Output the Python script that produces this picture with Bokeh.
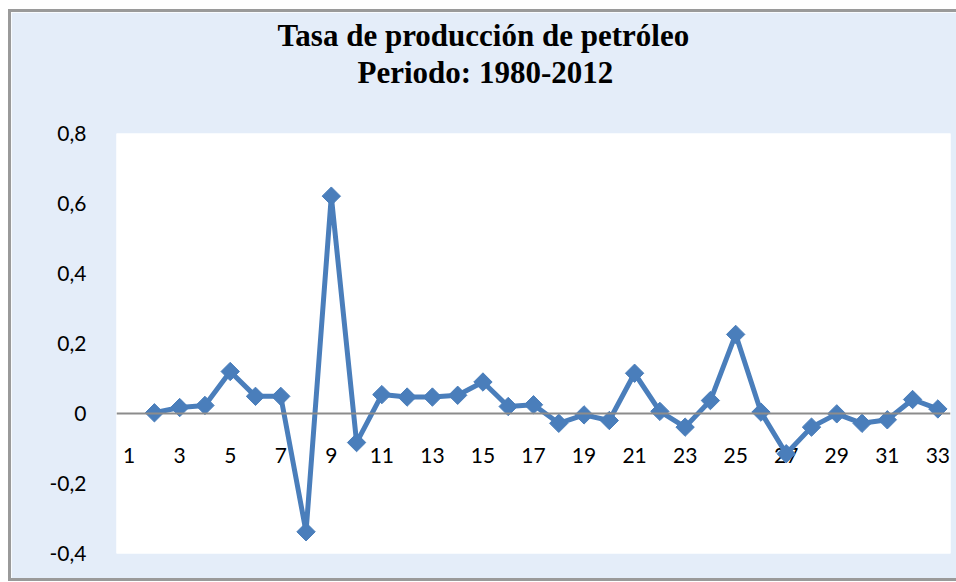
import math
from bokeh.plotting import figure
from bokeh.models import FixedTicker, CustomJSTickFormatter, Span, Range1d, Title
from bokeh.core.properties import value
from bokeh.embed import file_html
from bokeh.resources import INLINE

nan = float("nan")

# Data (periods 1..33, period 1 has no rate)
periods = list(range(1, 34))
rate = [nan, 0.002, 0.017, 0.023, 0.12, 0.049, 0.049, -0.338, 0.621, -0.083,
        0.054, 0.047, 0.047, 0.052, 0.09, 0.02, 0.025, -0.028, -0.004, -0.02,
        0.115, 0.006, -0.039, 0.037, 0.226, 0.004, -0.115, -0.039, -0.001,
        -0.028, -0.018, 0.04, 0.013]

x_tick_pos = list(range(1, 34, 2))
x_tick_labels = [str(v) for v in x_tick_pos]
y_ticks = [-0.4, -0.2, 0.0, 0.2, 0.4, 0.6, 0.8]

title_line1 = "Tasa de producción de petróleo"
title_line2 = "Periodo: 1980-2012"

BLUE = "#4A7EBB"
BG = "#E4EDF9"

p = figure(width=945, height=566, output_backend="svg", toolbar_location=None,
           x_range=Range1d(0.5, 33.5), y_range=Range1d(-0.4, 0.8),
           min_border_left=105, min_border_right=6, min_border_top=121,
           min_border_bottom=25)

title_style = dict(align="left", text_font="Liberation Serif", text_font_style="bold",
                   text_font_size="31px", text_color="black")
p.title = Title(text=title_line1, offset=161, standoff=0, **title_style)
# empty spacer between the title block and the plot area (added first = closest to plot)
p.add_layout(Title(text=" ", text_font_size="1px", standoff=41), "above")
p.add_layout(Title(text=title_line2, offset=241, standoff=0, **title_style), "above")

p.border_fill_color = BG
p.background_fill_color = "white"
p.outline_line_color = None
p.xgrid.visible = False
p.ygrid.visible = False
p.xaxis.visible = False

p.yaxis.ticker = FixedTicker(ticks=y_ticks)
p.yaxis.formatter = CustomJSTickFormatter(code="""
    if (Math.abs(tick) < 1e-9) { return "0"; }
    return tick.toFixed(1).replace(".", ",");
""")
p.yaxis.axis_line_color = None
p.yaxis.major_tick_line_color = None
p.yaxis.minor_tick_line_color = None
p.yaxis.major_label_standoff = 24
p.yaxis.major_label_text_font = "Lato"
p.yaxis.major_label_text_font_size = "21px"
p.yaxis.major_label_text_color = "black"

p.add_layout(Span(location=0, dimension="width", line_color="#8C8C8C", line_width=2))

# category labels next to the horizontal axis (which crosses at 0)
p.text(x=x_tick_pos, y=[0] * len(x_tick_pos), text=x_tick_labels,
       text_align="center", text_baseline="middle", y_offset=42,
       text_font=value("Lato"), text_font_size="21px", text_color="black")

p.line(periods, rate, line_color=BLUE, line_width=5, line_join="round")
p.scatter(periods, rate, marker="square", size=13, angle=math.pi / 4,
          fill_color=BLUE, line_color=BLUE)

p.styles = {"margin-left": "11px", "margin-top": "12px",
            "box-shadow": "0 0 0 3px #9A9A9A"}

open("out.html", "w").write(file_html(p, INLINE))
